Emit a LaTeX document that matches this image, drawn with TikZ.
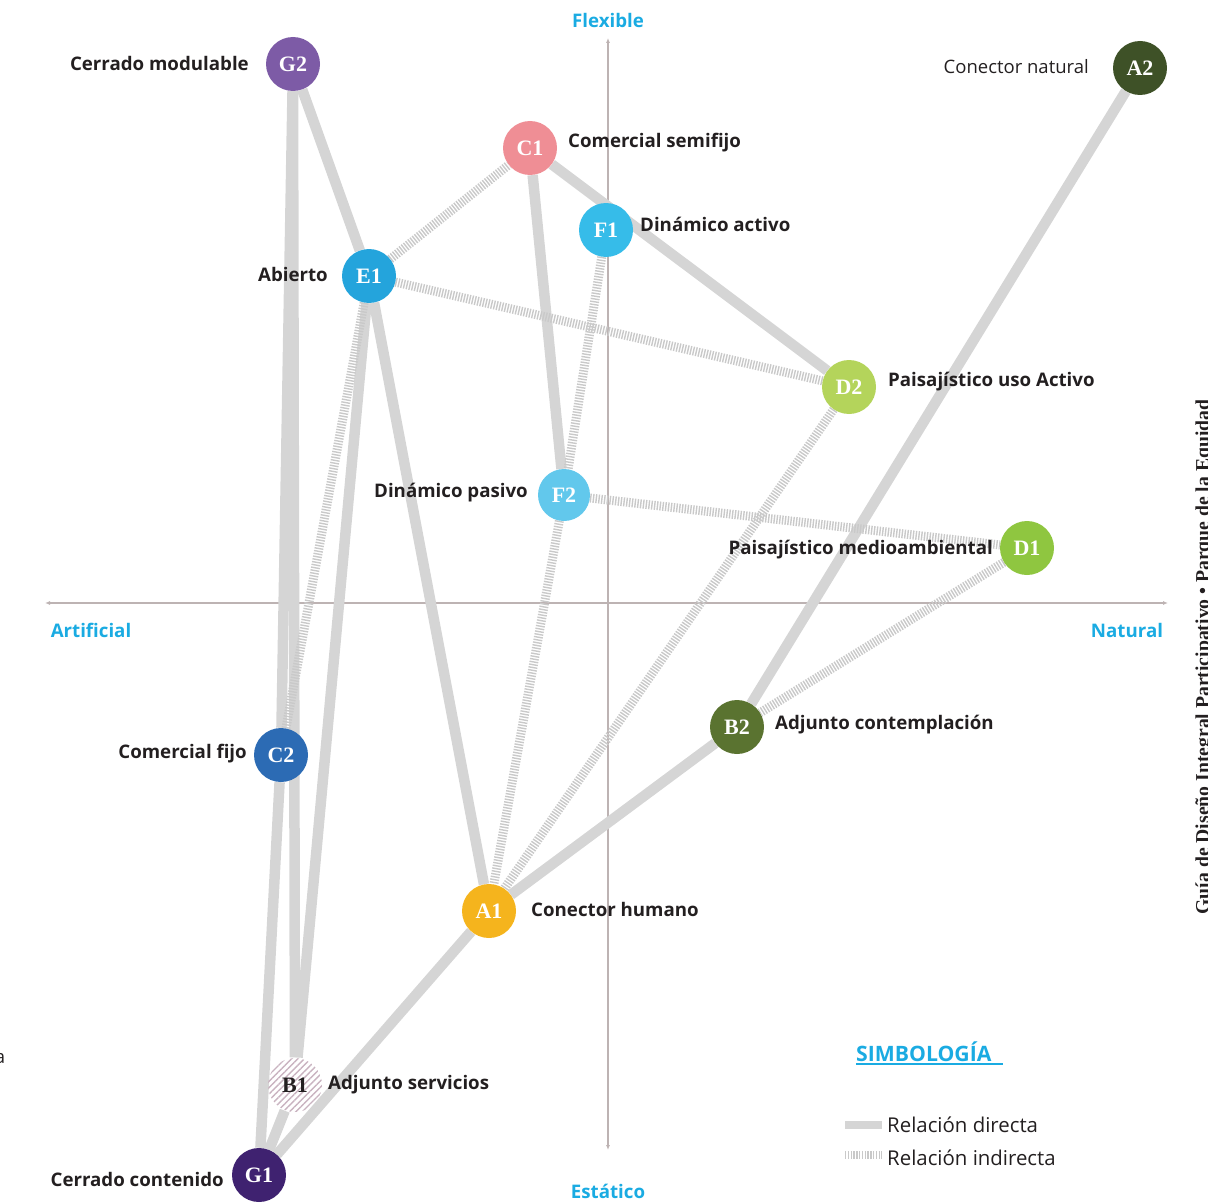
\documentclass[tikz,border=0pt]{standalone}
\usepackage{fontspec}
\setmainfont{Open Sans}
\newfontfamily\serifb{Liberation Serif}
\usetikzlibrary{patterns.meta,arrows.meta}
\definecolor{ink}{HTML}{231F20}
\definecolor{cyanlbl}{HTML}{1AABE2}
\definecolor{linegray}{HTML}{D5D5D5}
\definecolor{hatchgray}{HTML}{C9C9C9}
\definecolor{axisgray}{HTML}{BDB3B3}
\definecolor{cG2}{HTML}{7D5BA6}
\definecolor{cA2}{HTML}{3E5127}
\definecolor{cC1}{HTML}{EF8E95}
\definecolor{cF1}{HTML}{36BCE9}
\definecolor{cE1}{HTML}{24A4DC}
\definecolor{cD2}{HTML}{B4D45B}
\definecolor{cF2}{HTML}{62C8EC}
\definecolor{cD1}{HTML}{8FC640}
\definecolor{cC2}{HTML}{2C6BB4}
\definecolor{cB2}{HTML}{5A7330}
\definecolor{cA1}{HTML}{F5B41D}
\definecolor{cG1}{HTML}{3F2270}
\definecolor{cB1}{HTML}{C9B3C0}
\pgfdeclarelayer{bg}
\pgfsetlayers{bg,main}
\begin{document}
\begin{tikzpicture}[x=1pt,y=-1pt,
  direct/.style={line width=10.5pt, draw=linegray},
  indirect/.style={line width=9pt, draw=hatchgray, dash pattern=on 1.4pt off 1.4pt},
  nd/.style={circle, minimum size=54pt, inner sep=0pt, text=white,
    font=\serifb\bfseries\fontsize{22}{22}\selectfont},
  lbl/.style={font=\bfseries\fontsize{18.7}{22}\selectfont, text=ink, inner sep=0pt},
  lblr/.style={font=\fontsize{18.5}{22}\selectfont, text=ink, inner sep=0pt},
  lgd/.style={font=\fontsize{20.4}{24}\selectfont, text=ink, inner sep=0pt},
  axlbl/.style={font=\bfseries\fontsize{18.7}{22}\selectfont, text=cyanlbl, inner sep=0pt},
  axis/.style={draw=axisgray, line width=1.6pt, {Latex[length=5pt,width=4pt]}-{Latex[length=5pt,width=4pt]}}
]
\useasboundingbox (0,0) rectangle (1208,1204);

% axes
\coordinate (axL) at (45,603);
\coordinate (axR) at (1168,603);
\coordinate (axT) at (608,38);
\coordinate (axB) at (608,1150);
\begin{pgfonlayer}{bg}
\draw[axis] (axL) -- (axR);
\draw[axis] (axT) -- (axB);
\end{pgfonlayer}
\node[axlbl] (tFlex) at (608,20) {Flexible};
\node[axlbl] (tEst) at (608,1191) {Estático};
\node[axlbl] (tArt) at (91,630) {Artificial};
\node[axlbl] (tNat) at (1127,630) {Natural};

% nodes
\node[nd, fill=cG2] (G2) at (293,64) {G2};
\node[nd, fill=cA2] (A2) at (1140,68) {A2};
\node[nd, fill=cC1] (C1) at (530,148) {C1};
\node[nd, fill=cF1] (F1) at (606,230) {F1};
\node[nd, fill=cE1] (E1) at (369,276) {E1};
\node[nd, fill=cD2] (D2) at (849,387) {D2};
\node[nd, fill=cF2, minimum size=52pt] (F2) at (564,495) {F2};
\node[nd, fill=cD1] (D1) at (1027,548) {D1};
\node[nd, fill=cC2] (C2) at (281,755) {C2};
\node[nd, fill=cB2] (B2) at (737,727) {B2};
\node[nd, fill=cA1] (A1) at (489,911) {A1};
\node[nd, text=ink, pattern={Lines[angle=45,distance=4.5pt,line width=1.4pt]}, pattern color=cB1] (B1) at (295,1085) {B1};
\node[nd, fill=cG1] (G1) at (259,1175) {G1};

% node labels
\node[lbl, anchor=east] (lG2) at (249,63) {Cerrado modulable};
\node[lblr, anchor=east] (lA2) at (1089,67) {Conector natural};
\node[lbl, anchor=west] (lC1) at (568,143) {Comercial semifijo};
\node[lbl, anchor=west] (lF1) at (640,224) {Dinámico activo};
\node[lbl, anchor=east] (lE1) at (328,274) {Abierto};
\node[lbl, anchor=west] (lD2) at (888,382) {Paisajístico uso Activo};
\node[lbl, anchor=east] (lF2) at (528,493) {Dinámico pasivo};
\node[lbl, anchor=east] (lD1) at (993,550) {Paisajístico medioambiental};
\node[lbl, anchor=west] (lB2) at (775,725) {Adjunto contemplación};
\node[lbl, anchor=east] (lC2) at (247,754) {Comercial fijo};
\node[lbl, anchor=west] (lA1) at (531,909) {Conector humano};
\node[lbl, anchor=west] (lB1) at (328,1085) {Adjunto servicios};
\node[lbl, anchor=east] (lG1) at (224,1179) {Cerrado contenido};

% edges
\begin{pgfonlayer}{bg}
\draw[direct] (G2) -- (C2);
\draw[direct] (C2) -- (G1);
\draw[direct] (G2) -- (B1);
\draw[direct] (B1) -- (G1);
\draw[direct] (G2) -- (E1);
\draw[direct] (E1) -- (A1);
\draw[direct] (E1) -- (B1);
\draw[direct] (C1) -- (D2);
\draw[direct] (C1) -- (F2);
\draw[direct] (A2) -- (B2);
\draw[direct] (B2) -- (A1);
\draw[direct] (A1) -- (G1);
\draw[indirect] (E1) -- (C1);
\draw[indirect] (E1) -- (D2);
\draw[indirect] (E1) -- (C2);
\draw[indirect] (F1) -- (F2);
\draw[indirect] (F2) -- (A1);
\draw[indirect] (F2) -- (D1);
\draw[indirect] (D2) -- (A1);
\draw[indirect] (D1) -- (B2);
\end{pgfonlayer}

% legend
\node[font=\bfseries\fontsize{21.2}{24}\selectfont, text=cyanlbl, inner sep=0pt, anchor=west] (simb) at (856,1052) {SIMBOLOGÍA};
\coordinate (ulA) at (856,1064);
\coordinate (ulB) at (1003,1064);
\draw[draw=cyanlbl, line width=1.5pt] (ulA) -- (ulB);
\coordinate (lgDa) at (845,1125);
\coordinate (lgDb) at (882,1125);
\coordinate (lgIa) at (845,1155);
\coordinate (lgIb) at (882,1155);
\draw[direct, line width=8pt] (lgDa) -- (lgDb);
\draw[indirect, line width=8pt] (lgIa) -- (lgIb);
\node[lgd, anchor=west] (tDir) at (887,1125) {Relación directa};
\node[lgd, anchor=west] (tInd) at (887,1158) {Relación indirecta};

% side title
\node[font=\serifb\bfseries\fontsize{19.7}{22}\selectfont, text=ink, rotate=90, inner sep=0pt, anchor=base] (side) at (1209,657) {Guía de Diseño Integral Participativo • Parque de la Equidad};
\node[lblr, anchor=base] (cutA) at (0,1063) {a};
\end{tikzpicture}
\end{document}
